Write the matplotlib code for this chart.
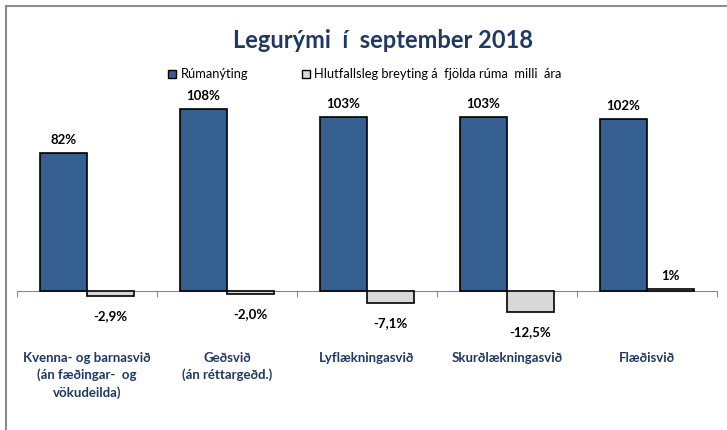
import matplotlib.pyplot as plt
import numpy as np

plt.rcParams['font.family'] = ['Lato', 'DejaVu Sans']

flokkar = ['Kvenna- og barnasvið\n(án fæðingar-  og\nvökudeilda)',
           'Geðsvið\n(án réttargeðd.)',
           'Lyflækningasvið',
           'Skurðlækningasvið',
           'Flæðisvið']
rumanyting = [82, 108, 103, 103, 102]
breyting = [-2.9, -2.0, -7.1, -12.5, 1]
breyting_txt = ['-2,9%', '-2,0%', '-7,1%', '-12,5%', '1%']

blar = '#365F91'
grar = '#D9D9D9'
dokkblar = '#1F3864'

fig = plt.figure(figsize=(7.27, 4.30), dpi=100)
W, H = 727, 430
# axes: x 17..717 px, y 60..410 px (frá toppi)
ax = fig.add_axes([17 / W, 1 - 410 / H, 700 / W, 350 / H])
ax.set_xlim(0, len(flokkar))
ax.set_ylim(-70.6, 137)

x = np.arange(len(flokkar)) + 0.5
b = 0.335
ax.bar(x - b / 2, rumanyting, width=b, color=blar, edgecolor='black', linewidth=1.2)
ax.bar(x + b / 2, breyting, width=b, color=grar, edgecolor='black', linewidth=1.2)

for xi, v in zip(x, rumanyting):
    ax.annotate(f'{v}%', (xi - b / 2, v), xytext=(0, 5), textcoords='offset points',
                ha='center', va='bottom', fontsize=9.5, fontweight='bold')
for xi, v, t in zip(x, breyting, breyting_txt):
    if v < 0:
        ax.annotate(t, (xi + b / 2, v), xytext=(0, -10), textcoords='offset points',
                    ha='center', va='top', fontsize=9.5, fontweight='bold')
    else:
        ax.annotate(t, (xi + b / 2, v), xytext=(0, 5), textcoords='offset points',
                    ha='center', va='bottom', fontsize=9.5, fontweight='bold')

for xi, t in zip(x, flokkar):
    ax.text(xi, -36, t, ha='center', va='top', fontsize=9.5, fontweight='bold',
            color=dokkblar, linespacing=1.45)

for s in ['top', 'right', 'left']:
    ax.spines[s].set_visible(False)
ax.spines['bottom'].set_position(('data', 0))
ax.spines['bottom'].set_color('#868686')
ax.spines['bottom'].set_zorder(0)
ax.set_xticks(np.arange(len(flokkar) + 1))
ax.set_xticklabels([])
ax.tick_params(axis='x', direction='out', length=4, color='#868686')
ax.set_yticks([])

fig.text(383 / W, 1 - 40 / H, 'Legurými  í  september 2018', ha='center', va='center',
         fontsize=17, fontweight='bold', color=dokkblar)

# legend
fig.patches.append(plt.Rectangle((168 / W, 1 - 78 / H), 8 / W, 8 / H, transform=fig.transFigure,
                                 facecolor=blar, edgecolor='black', linewidth=1))
fig.text(181 / W, 1 - 74 / H, 'Rúmanýting', ha='left', va='center', fontsize=9.3)
fig.patches.append(plt.Rectangle((302 / W, 1 - 78 / H), 8 / W, 8 / H, transform=fig.transFigure,
                                 facecolor=grar, edgecolor='black', linewidth=1))
fig.text(314 / W, 1 - 74 / H, 'Hlutfallsleg breyting á  fjölda rúma  milli  ára', ha='left',
         va='center', fontsize=9.3)

# rammi (bara vinstri og efri lína sjást)
fig.add_artist(plt.Line2D([6 / W, 6 / W], [0, 1 - 6 / H], color='#8C8C8C', linewidth=1.5,
                          transform=fig.transFigure))
fig.add_artist(plt.Line2D([6 / W, 1], [1 - 6 / H, 1 - 6 / H], color='#8C8C8C', linewidth=1.5,
                          transform=fig.transFigure))

fig.savefig('out.png', dpi=100)
